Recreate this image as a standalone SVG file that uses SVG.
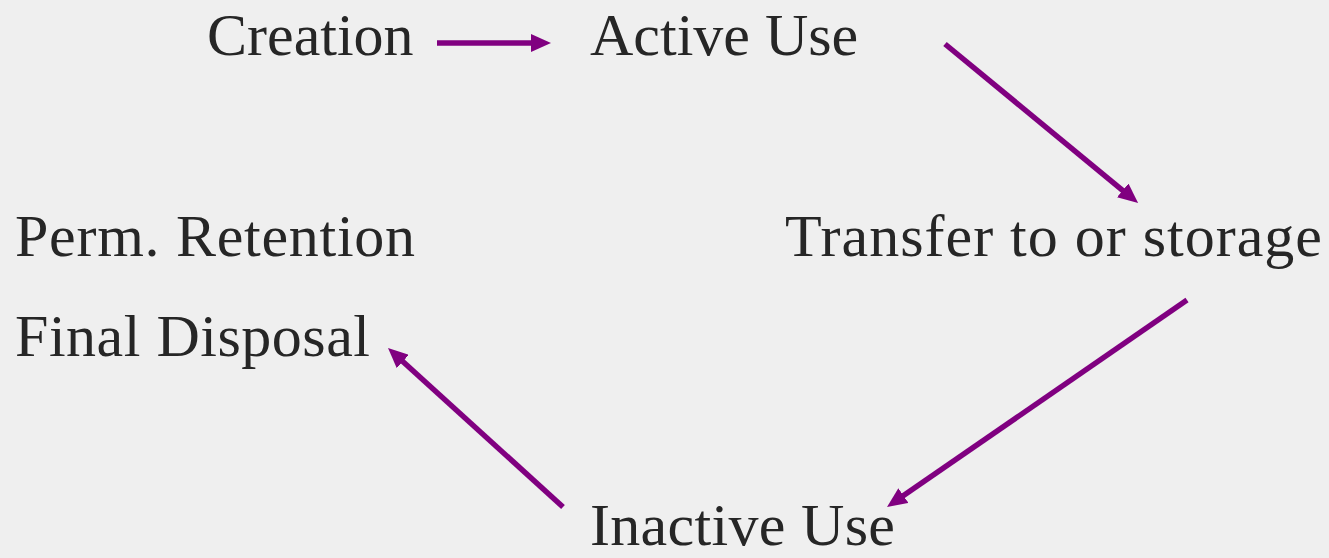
<svg xmlns="http://www.w3.org/2000/svg" width="1329" height="558" viewBox="0 0 1329 558">
<style>
.lbl{font-family:"Liberation Serif","Times New Roman",serif;font-size:60px;fill:#262626}
.conn{stroke:#800080;stroke-width:5.5;fill:none}
</style>
<defs>
<marker id="ah" markerUnits="userSpaceOnUse" markerWidth="20" markerHeight="18" refX="3" refY="9" orient="auto">
<path d="M0,0 L20,9 L0,18 z" fill="#800080"/>
</marker>
</defs>
<rect width="1329" height="558" fill="#efefef"/>
<g id="creation"><text class="lbl" x="207" y="55">Creation</text></g>
<g id="active-use"><text class="lbl" x="590" y="55">Active Use</text></g>
<g id="transfer"><text class="lbl" x="785" y="256" textLength="537">Transfer to or storage</text></g>
<g id="perm-retention"><text class="lbl" x="15" y="256" textLength="400">Perm. Retention</text></g>
<g id="final-disposal"><text class="lbl" x="15" y="356" textLength="355">Final Disposal</text></g>
<g id="inactive-use"><text class="lbl" x="590" y="545" textLength="305">Inactive Use</text></g>
<g id="connectors">
<line class="conn" x1="437" y1="43" x2="534" y2="43" marker-end="url(#ah)"/>
<line class="conn" x1="945" y1="44" x2="1125" y2="192.3" marker-end="url(#ah)"/>
<line class="conn" x1="1187" y1="300" x2="901" y2="497.3" marker-end="url(#ah)"/>
<line class="conn" x1="563" y1="507" x2="400.6" y2="359.5" marker-end="url(#ah)"/>
</g>
</svg>
